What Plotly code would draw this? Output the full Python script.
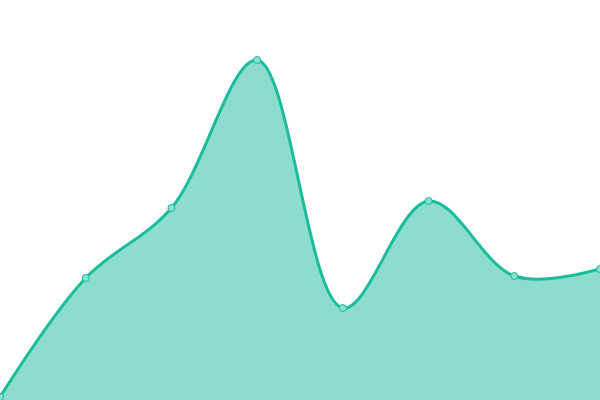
import plotly.graph_objects as go

x_vals = [0, 1, 2, 3, 4, 5, 6, 7]
y_vals = [3, 122, 192, 340, 92, 199, 124, 131]

fig = go.Figure()
fig.add_trace(go.Scatter(
    x=x_vals, y=y_vals,
    mode='lines+markers',
    line=dict(color='#1abc9c', width=3, shape='spline', smoothing=1.0),
    marker=dict(size=7, color='#8ae0cf', line=dict(color='#1abc9c', width=1)),
    fill='tozeroy',
    fillcolor='rgba(26,188,156,0.5)',
    cliponaxis=False,
    showlegend=False,
    hoverinfo='skip',
))
fig.update_layout(
    width=600, height=400,
    margin=dict(l=0, r=0, t=0, b=0),
    paper_bgcolor='white', plot_bgcolor='white',
    xaxis=dict(range=[0, 7], visible=False, fixedrange=True),
    yaxis=dict(range=[0, 400], visible=False, fixedrange=True),
)
# drop the default page margin so the plot fills the window
fig.write_html("out.html", config={'displayModeBar': False},
               post_script="document.body.style.margin='0';document.body.style.overflow='hidden';")
